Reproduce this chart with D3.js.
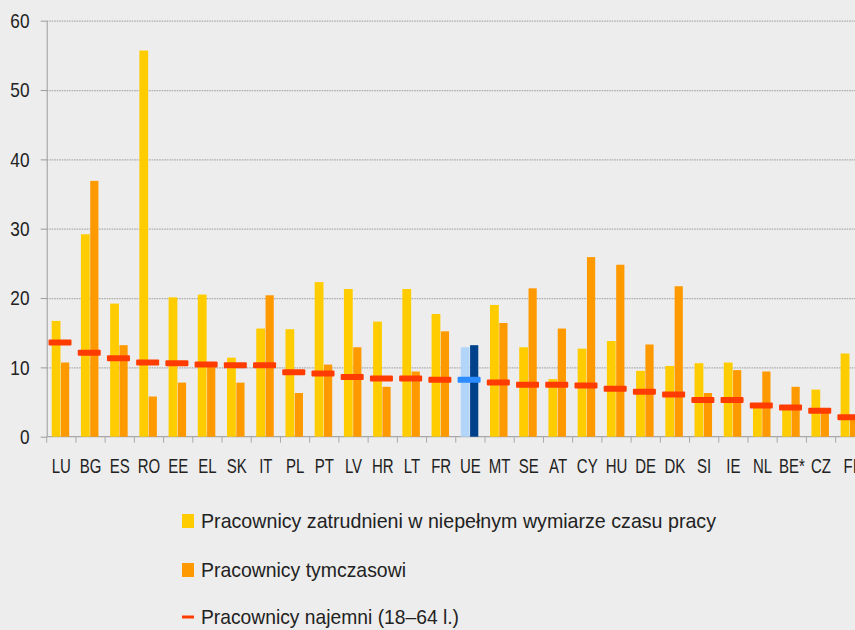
<!DOCTYPE html>
<html>
<head>
<meta charset="utf-8">
<script src="https://cdn.jsdelivr.net/npm/d3@7"></script>
<style>
  body { margin: 0; background: #ededed; overflow: hidden; }
  svg { display: block; }
  .lab { font-family: "Liberation Sans Narrow", "Liberation Sans", sans-serif; font-stretch: condensed; fill: #222; }
</style>
</head>
<body>
<div id="chart"></div>
<script>
// country codes (UE = EU average)
var countries = ['LU','BG','ES','RO','EE','EL','SK','IT','PL','PT','LV','HR','LT','FR','UE','MT','SE','AT','CY','HU','DE','DK','SI','IE','NL','BE*','CZ','FI'];
// part-time workers, %
var partTime = [16.7,29.2,19.2,55.7,20.1,20.5,11.4,15.6,15.5,22.3,21.3,16.6,21.3,17.7,12.9,19.0,12.9,8.3,12.7,13.8,9.5,10.2,10.6,10.7,4.5,4.0,6.8,12.0];
// temporary workers, %
var temporary = [10.7,36.9,13.2,5.8,7.8,10.2,7.8,20.4,6.3,10.4,12.9,7.2,9.4,15.2,13.2,16.4,21.4,15.6,25.9,24.8,13.3,21.7,6.3,9.6,9.4,7.2,3.5,2.5];
// all employees 18-64
var employees = [13.6,12.1,11.3,10.7,10.6,10.4,10.3,10.3,9.3,9.1,8.6,8.4,8.4,8.2,8.2,7.8,7.5,7.5,7.4,6.9,6.5,6.1,5.3,5.3,4.5,4.2,3.75,2.8];
var yTicks = [0,10,20,30,40,50,60];
var legendLabels = ['Pracownicy zatrudnieni w niepełnym wymiarze czasu pracy','Pracownicy tymczasowi','Pracownicy najemni (18–64 l.)'];

(function(){
	const W = 855, H = 630;
	const LEFT = 46.7, BAND = 29.22;
	const Y0 = 436.7, Y60 = 20.7;

	var svg = d3.select('#chart').append('svg')
		.attr('width', W).attr('height', H);
	svg.append('rect').attr('width', W).attr('height', H).attr('fill', '#ededed');

	var x = d3.scaleBand().domain(countries).range([LEFT, LEFT + BAND*countries.length]).padding(0);
	var y = d3.scaleLinear().domain([0,60]).range([Y0, Y60]);

	// grid lines
	svg.append('g')
		.attr('transform', 'translate(' + LEFT + ',0)')
		.call(d3.axisLeft(y).tickValues(yTicks.slice(1)).tickSize(-(W - LEFT + 20)).tickFormat(''))
		.call(function(g){
			g.select('.domain').remove();
			g.selectAll('line').attr('stroke', '#a8a8a8').attr('stroke-width', 1.2).attr('stroke-dasharray', '1.5,1');
		});

	// y axis, labels squeezed to look like a narrow font
	svg.append('g')
		.attr('transform', 'translate(' + LEFT + ',0)')
		.call(d3.axisLeft(y).tickValues(yTicks).tickSize(6).tickFormat('').tickSizeOuter(0))
		.call(function(g){
			g.select('.domain').attr('stroke', '#9a9a9a');
			g.selectAll('line').attr('stroke', '#9a9a9a');
		});
	svg.append('g').selectAll('text')
		.data(yTicks)
		.enter().append('text')
		.attr('class', 'lab')
		.attr('transform', function(d){ return 'translate(29.5,' + y(d) + ') scale(0.82,1)'; })
		.attr('dy', '0.35em')
		.attr('text-anchor', 'end')
		.style('font-size', '21px')
		.text(function(d){ return d; });

	// x axis line + boundary ticks
	svg.append('line')
		.attr('x1', LEFT).attr('x2', W + 20)
		.attr('y1', y(0)).attr('y2', y(0))
		.attr('stroke', '#a8a8a8').attr('stroke-width', 1.2);
	svg.append('g').selectAll('line')
		.data(countries)
		.enter().append('line')
		.attr('x1', function(d){ return x(d); })
		.attr('x2', function(d){ return x(d); })
		.attr('y1', y(0)).attr('y2', y(0) + 6)
		.attr('stroke', '#a8a8a8');

	// FI sits partly off the right edge, as in the original
	svg.append('g').selectAll('text')
		.data(countries)
		.enter().append('text')
		.attr('class', 'lab')
		.attr('transform', function(d){ return 'translate(' + (x(d) + BAND/2) + ',466) scale(0.75,1)'; })
		.attr('dy', '0.35em')
		.attr('text-anchor', 'middle')
		.style('font-size', '20px')
		.text(function(d){ return d; });

	var isEU = function(i){ return countries[i] === 'UE'; };
	var cx = function(i){ return x(countries[i]) + BAND/2; };

	// part-time bars
	svg.append('g').selectAll('rect')
		.data(partTime)
		.enter().append('rect')
		.attr('x', function(d,i){ return cx(i) - 9.6; })
		.attr('width', 8.8)
		.attr('y', function(d){ return y(d); })
		.attr('height', function(d){ return y(0) - y(d); })
		.attr('fill', function(d,i){ return isEU(i) ? '#b3d5fa' : '#ffcc00'; });

	// temporary bars
	svg.append('g').selectAll('rect')
		.data(temporary)
		.enter().append('rect')
		.attr('x', function(d,i){ return cx(i) - 0.3; })
		.attr('width', 8.2)
		.attr('y', function(d){ return y(d); })
		.attr('height', function(d){ return y(0) - y(d); })
		.attr('fill', function(d,i){ return isEU(i) ? '#00418c' : '#ff9900'; });

	// employees dashes
	svg.append('g').selectAll('rect')
		.data(employees)
		.enter().append('rect')
		.attr('x', function(d,i){ return cx(i) - 12.8; })
		.attr('width', 23)
		.attr('y', function(d){ return y(d) - 3; })
		.attr('height', 6)
		.attr('rx', 1)
		.attr('fill', function(d,i){ return isEU(i) ? '#2b8cff' : '#ff3c00'; });

	// legend
	var legendY = [521, 570, 617];
	var legendW = [515, 205, 258];
	var legend = svg.append('g');
	legend.append('rect').attr('x', 182).attr('y', legendY[0] - 7).attr('width', 12).attr('height', 14).attr('fill', '#ffcc00');
	legend.append('rect').attr('x', 182).attr('y', legendY[1] - 7).attr('width', 12).attr('height', 14).attr('fill', '#ff9900');
	legend.append('rect').attr('x', 182).attr('y', legendY[2] - 1.5).attr('width', 12).attr('height', 3).attr('fill', '#ff3c00');
	legend.selectAll('text')
		.data(legendLabels)
		.enter().append('text')
		.attr('class', 'lab')
		.attr('x', 201)
		.attr('y', function(d,i){ return legendY[i]; })
		.attr('dy', '0.35em')
		.attr('textLength', function(d,i){ return legendW[i]; })
		.attr('lengthAdjust', 'spacingAndGlyphs')
		.style('font-size', '21px')
		.text(function(d){ return d; });
})();
</script>
</body>
</html>
